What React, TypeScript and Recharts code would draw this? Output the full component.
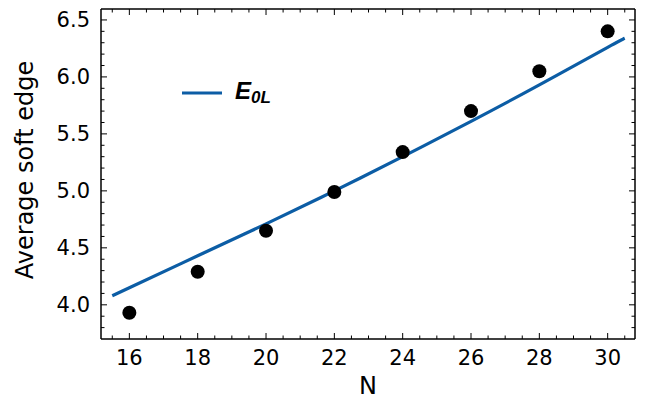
import React from "react"
import { ComposedChart, Line, Scatter, XAxis, YAxis } from "recharts"

// measured points (N, average soft edge)
const nValues = [16, 18, 20, 22, 24, 26, 28, 30]
const softEdge = [3.93, 4.29, 4.65, 4.99, 5.34, 5.70, 6.05, 6.40]

// E_0L fit curve
const fitN = [15.5, 16, 18, 20, 22, 24, 26, 28, 30, 30.5]
const fitE = [4.08, 4.15, 4.43, 4.71, 5.0, 5.3, 5.61, 5.93, 6.26, 6.34]

const xMajor = [16, 18, 20, 22, 24, 26, 28, 30]
const yMajor = [4.0, 4.5, 5.0, 5.5, 6.0, 6.5]

const points = nValues.map((n, i) => ({ n, v: softEdge[i] }))
const fit = fitN.map((n, i) => ({ n, e: fitE[i] }))

const xTicks: number[] = []
for (let k = 31; k <= 61; k++) xTicks.push(k / 2)
const yTicks: number[] = []
for (let k = 38; k <= 65; k++) yTicks.push(k / 10)

const isMajor = (v: number, majors: number[]) => majors.some(m => Math.abs(m - v) < 1e-6)

const FONT = "DejaVu Sans"
const BLUE = "#0C5DA5"

const BottomTick = (p: any) => {
  const major = isMajor(p.payload.value, xMajor)
  return (
    <g>
      <line x1={p.x} x2={p.x} y1={p.y} y2={p.y - (major ? 6 : 3.5)} stroke="#000" strokeWidth={1} />
      {major && (
        <text x={p.x} y={p.y + 26} textAnchor="middle" fontSize={21} fontFamily={FONT} fill="#000">
          {p.payload.value.toFixed(0)}
        </text>
      )}
    </g>
  )
}
const TopTick = (p: any) => {
  const major = isMajor(p.payload.value, xMajor)
  return <line x1={p.x} x2={p.x} y1={p.y} y2={p.y + (major ? 6 : 3.5)} stroke="#000" strokeWidth={1} />
}
const LeftTick = (p: any) => {
  const major = isMajor(p.payload.value, yMajor)
  return (
    <g>
      <line x1={p.x} x2={p.x + (major ? 6 : 3.5)} y1={p.y} y2={p.y} stroke="#000" strokeWidth={1} />
      {major && (
        <text x={p.x - 11} y={p.y + 7.5} textAnchor="end" fontSize={21} fontFamily={FONT} fill="#000">
          {p.payload.value.toFixed(1)}
        </text>
      )}
    </g>
  )
}
const RightTick = (p: any) => {
  const major = isMajor(p.payload.value, yMajor)
  return <line x1={p.x} x2={p.x - (major ? 6 : 3.5)} y1={p.y} y2={p.y} stroke="#000" strokeWidth={1} />
}

const Dot = (p: any) => <circle cx={p.cx} cy={p.cy} r={7} fill="#000" />

export default function App() {
  const xDomain = [15.17, 30.8]
  const yDomain = [3.7, 6.596]
  return (
    <div style={{ position: "absolute", left: 0, top: 0, width: 646, height: 400, background: "#fff" }}>
      <ComposedChart width={646} height={400} margin={{ top: 8, right: 10, bottom: 0, left: 0 }}>
        <XAxis
          xAxisId="b" type="number" dataKey="n" domain={xDomain} allowDataOverflow
          ticks={xTicks} interval={0} height={61} tickSize={0} tickMargin={0} tickLine={false}
          tick={BottomTick} axisLine={{ stroke: "#000", strokeWidth: 1.5 }}
          label={({ viewBox }: any) => (
            <text x={viewBox.x + viewBox.width / 2} y={viewBox.y + 55} textAnchor="middle" fontSize={24} fontFamily={FONT} fill="#000">N</text>
          )}
        />
        <XAxis
          xAxisId="t" orientation="top" type="number" dataKey="n" domain={xDomain} allowDataOverflow
          ticks={xTicks} interval={0} height={1} tickSize={0} tickMargin={0} tickLine={false}
          tick={TopTick} axisLine={{ stroke: "#000", strokeWidth: 1.5 }}
        />
        <YAxis
          yAxisId="l" type="number" domain={yDomain} allowDataOverflow
          ticks={yTicks} interval={0} width={101} tickSize={0} tickMargin={0} tickLine={false}
          tick={LeftTick} axisLine={{ stroke: "#000", strokeWidth: 1.5 }}
          label={({ viewBox }: any) => {
            const cx = 25
            const cy = viewBox.y + viewBox.height / 2 - 4
            return (
              <text x={cx} y={cy} transform={`rotate(-90 ${cx} ${cy})`} textAnchor="middle" dominantBaseline="central" fontSize={24} fontFamily={FONT} fill="#000">
                Average soft edge
              </text>
            )
          }}
        />
        <YAxis
          yAxisId="r" orientation="right" type="number" domain={yDomain} allowDataOverflow
          ticks={yTicks} interval={0} width={1} tickSize={0} tickMargin={0} tickLine={false}
          tick={RightTick} axisLine={{ stroke: "#000", strokeWidth: 1.5 }}
        />
        <Line
          xAxisId="b" yAxisId="l" data={fit} dataKey="e" type="natural"
          stroke={BLUE} strokeWidth={3.2} dot={false} isAnimationActive={false}
        />
        <Scatter xAxisId="b" yAxisId="l" data={points} dataKey="v" fill="#000" shape={Dot} isAnimationActive={false} />
        <Scatter xAxisId="t" yAxisId="r" data={points} dataKey="v" fill="none" shape={() => <g />} isAnimationActive={false} />
      </ComposedChart>
      <div style={{ position: "absolute", left: 182, top: 76, display: "flex", alignItems: "center", pointerEvents: "none" }}>
        <svg width={40} height={30}>
          <line x1={0} x2={40} y1={15} y2={15} stroke={BLUE} strokeWidth={3.2} />
        </svg>
        <span style={{ marginLeft: 13, fontFamily: "Liberation Sans", fontWeight: "bold", fontStyle: "italic", fontSize: 24, color: "#000", lineHeight: "30px" }}>
          E<span style={{ fontSize: 17, position: "relative", top: 4 }}>0L</span>
        </span>
      </div>
    </div>
  )
}
